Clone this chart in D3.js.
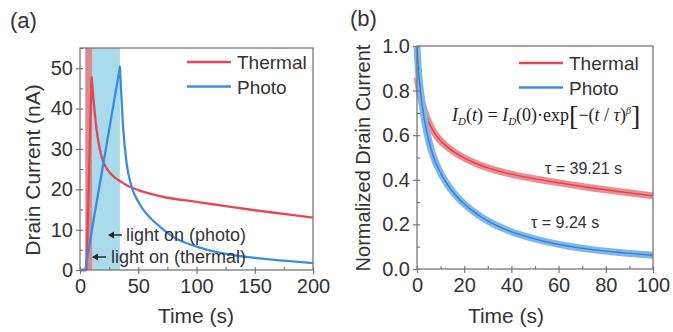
<!DOCTYPE html>
<html>
<head>
<meta charset="utf-8">
<script src="https://cdn.jsdelivr.net/npm/d3@7"></script>
<style>
  body { margin: 0; background: #fff; }
  svg { display: block; font-family: "Liberation Sans", Arial, sans-serif; }
</style>
</head>
<body>
<svg id="chart" width="673" height="332"></svg>
<script>
// panel (a): drain current vs time
const thermalTimeA = [0, 5.5, 10, 11.4, 12.5, 14.3, 16, 18, 20, 23, 26, 30, 35, 40, 50, 60, 75, 100, 125, 150, 175, 200];
const thermalCurrentA = [0, 0, 47.8, 42.9, 39.5, 34.6, 31.5, 28.7, 26.8, 25.1, 24, 22.9, 21.9, 21.0, 19.8, 18.9, 17.9, 16.9, 15.8, 14.8, 13.9, 13.0];
const photoTimeA = [0, 4.5, 12, 20, 28, 34.3, 37.2, 40, 44.4, 50, 54.4, 60, 68.7, 80, 100, 125, 150, 175, 200];
const photoCurrentA = [0, 0, 13, 26.3, 39.8, 50.3, 34.6, 26.4, 20.6, 16.9, 14.9, 13, 10.7, 8.2, 5.8, 4, 3, 2.3, 1.7];
const thermalLightOn = [4.5, 10.5];
const photoLightOn = [10.5, 34.3];
const xTicksA = [0, 50, 100, 150, 200];
const yTicksA = [0, 10, 20, 30, 40, 50];

// panel (b): normalized decay
const thermalTimeB = [0, 1, 2, 3.2, 5, 7, 9, 12, 16, 20, 25, 30, 37, 45, 55, 65, 75, 85, 100];
const thermalNormB = [0.86, 0.8, 0.75, 0.705, 0.655, 0.615, 0.585, 0.553, 0.522, 0.497, 0.472, 0.453, 0.432, 0.413, 0.395, 0.378, 0.362, 0.348, 0.328];
const photoTimeB = [0, 0.5, 1, 2, 3.2, 5, 7, 9, 12, 16, 20, 25, 30, 37, 45, 55, 65, 75, 85, 100];
const photoNormB = [1.0, 0.9, 0.84, 0.75, 0.66, 0.57, 0.5, 0.45, 0.39, 0.333, 0.29, 0.248, 0.214, 0.178, 0.148, 0.12, 0.1, 0.085, 0.074, 0.062];
const xTicksB = [0, 20, 40, 60, 80, 100];
const yTicksB = [0, 0.2, 0.4, 0.6, 0.8, 1.0];

const seriesNames = ['Thermal', 'Photo'];
const red = '#e4474f';
const blue = '#3b8ddc';
const axisColor = '#777';
const textColor = '#333';

const svg = d3.select('#chart');

function frame(g, x, y, xTicks, yTicks, xMinor, yMinor, yFmt) {
  const [x0, x1] = x.range();
  const [y0, y1] = y.range();

  g.append('g')
    .attr('transform', `translate(0,${y0})`)
    .call(d3.axisBottom(x).tickValues(xMinor).tickSize(-3).tickFormat(''))
    .call((a) => a.select('.domain').remove());
  g.append('g')
    .attr('transform', `translate(${x0},0)`)
    .call(d3.axisLeft(y).tickValues(yMinor).tickSize(-3).tickFormat(''))
    .call((a) => a.select('.domain').remove());

  g.append('g')
    .attr('transform', `translate(0,${y0})`)
    .call(d3.axisBottom(x).tickValues(xTicks).tickSize(4).tickPadding(5))
    .call((a) => a.select('.domain').remove())
    .call((a) => a.selectAll('text').style('font-size', '20px'));
  g.append('g')
    .attr('transform', `translate(${x0},0)`)
    .call(d3.axisLeft(y).tickValues(yTicks).tickSize(4).tickPadding(3).tickFormat(yFmt))
    .call((a) => a.select('.domain').remove())
    .call((a) => a.selectAll('text').style('font-size', '20px'));

  g.selectAll('.tick line').attr('stroke', axisColor).attr('stroke-width', 1.2);
  g.selectAll('.tick text').attr('fill', textColor).attr('font-family', '"Liberation Sans", Arial, sans-serif');

  g.append('rect')
    .attr('x', x0).attr('y', y1)
    .attr('width', x1 - x0).attr('height', y0 - y1)
    .attr('fill', 'none')
    .attr('stroke', axisColor)
    .attr('stroke-width', 1.3);
}

function legend(g, lx, ly) {
  const colors = [red, blue];
  seriesNames.forEach((name, i) => {
    const yy = ly + i * 24.5;
    g.append('line')
      .attr('x1', lx).attr('x2', lx + 44)
      .attr('y1', yy).attr('y2', yy)
      .attr('stroke', colors[i]).attr('stroke-width', 2.5);
    g.append('text')
      .attr('x', lx + 50).attr('y', yy + 7)
      .attr('fill', textColor)
      .style('font-size', '19px')
      .text(name);
  });
}

// ---------- panel (a)
const gA = svg.append('g');
const xA = d3.scaleLinear().domain([0, 200]).range([80, 313]);
const yA = d3.scaleLinear().domain([0, 55]).range([270, 48]);

gA.append('rect')
  .attr('x', xA(photoLightOn[0])).attr('y', yA(55))
  .attr('width', xA(photoLightOn[1]) - xA(photoLightOn[0]))
  .attr('height', yA(0) - yA(55))
  .attr('fill', '#aadbed');
gA.append('rect')
  .attr('x', xA(thermalLightOn[0])).attr('y', yA(55))
  .attr('width', xA(thermalLightOn[1]) - xA(thermalLightOn[0]))
  .attr('height', yA(0) - yA(55))
  .attr('fill', '#d98a95');

// rise drawn straight, decay drawn smooth, joined into one path at the peak
const riseLine = d3.line().x((d) => xA(d[0])).y((d) => yA(d[1]));
const decayLine = d3.line().x((d) => xA(d[0])).y((d) => yA(d[1])).curve(d3.curveMonotoneX);
function transient(t, v) {
  const pts = d3.zip(t, v);
  const peak = d3.maxIndex(v);
  return riseLine(pts.slice(0, peak + 1)) + decayLine(pts.slice(peak)).replace(/^M/, 'L');
}

gA.append('path')
  .attr('d', transient(thermalTimeA, thermalCurrentA))
  .attr('fill', 'none').attr('stroke', red).attr('stroke-width', 2.3)
  .attr('stroke-linejoin', 'round');
gA.append('path')
  .attr('d', transient(photoTimeA, photoCurrentA))
  .attr('fill', 'none').attr('stroke', blue).attr('stroke-width', 2.3)
  .attr('stroke-linejoin', 'round');

frame(gA, xA, yA, xTicksA, yTicksA, d3.range(0, 201, 25), d3.range(0, 56, 5), d3.format('d'));
legend(gA, 187, 62);

// light-on annotations
const notes = [
  { text: 'light on (photo)', ax: 108, ay: 235, tx: 126, ty: 241 },
  { text: 'light on (thermal)', ax: 92, ay: 257, tx: 111, ty: 263 },
];
notes.forEach((n) => {
  gA.append('line')
    .attr('x1', n.ax + 2).attr('x2', n.ax + 14)
    .attr('y1', n.ay).attr('y2', n.ay)
    .attr('stroke', '#222').attr('stroke-width', 1.4);
  gA.append('path')
    .attr('d', `M${n.ax},${n.ay} l6,-3.5 l0,7 z`)
    .attr('fill', '#222');
  gA.append('text')
    .attr('x', n.tx).attr('y', n.ty)
    .attr('fill', textColor)
    .style('font-size', '18px')
    .text(n.text);
});

gA.append('text')
  .attr('x', 196).attr('y', 323)
  .attr('text-anchor', 'middle')
  .attr('fill', textColor)
  .style('font-size', '21px')
  .text('Time (s)');
gA.append('text')
  .attr('transform', 'translate(40,170) rotate(-90)')
  .attr('text-anchor', 'middle')
  .attr('fill', textColor)
  .style('font-size', '21px')
  .text('Drain Current (nA)');
gA.append('text')
  .attr('x', 10).attr('y', 28)
  .attr('fill', textColor)
  .style('font-size', '22px')
  .text('(a)');

// ---------- panel (b)
const gB = svg.append('g');
const xB = d3.scaleLinear().domain([0, 100]).range([417, 653]);
const yB = d3.scaleLinear().domain([0, 1]).range([269, 46]);

const lineB = d3.line().x((d) => xB(d[0])).y((d) => yB(d[1])).curve(d3.curveBasis);
const bands = [
  { t: thermalTimeB, v: thermalNormB, c: '#de3f48', light: '#ee8c91' },
  { t: photoTimeB, v: photoNormB, c: '#2f82d6', light: '#80b7ea' },
];
bands.forEach((s) => {
  const pts = d3.zip(s.t, s.v);
  gB.append('path')
    .datum(pts)
    .attr('d', lineB)
    .attr('fill', 'none').attr('stroke', s.light).attr('stroke-width', 7);
  gB.append('path')
    .datum(pts)
    .attr('d', lineB)
    .attr('fill', 'none').attr('stroke', s.c).attr('stroke-width', 1.4);
});

frame(gB, xB, yB, xTicksB, yTicksB, d3.range(0, 101, 10), d3.range(0, 1.01, 0.1), d3.format('.1f'));
legend(gB, 519, 63);

// fit formula
const formula = gB.append('text')
  .attr('x', 452).attr('y', 121)
  .attr('fill', '#222')
  .style('font-family', '"Liberation Serif", "Times New Roman", serif')
  .style('font-size', '18px');
formula.append('tspan').style('font-style', 'italic').text('I');
formula.append('tspan').attr('dy', 4).style('font-size', '11px').style('font-style', 'italic').text('D');
formula.append('tspan').attr('dy', -4).text('(');
formula.append('tspan').style('font-style', 'italic').text('t');
formula.append('tspan').text(') = ');
formula.append('tspan').style('font-style', 'italic').text('I');
formula.append('tspan').attr('dy', 4).style('font-size', '11px').style('font-style', 'italic').text('D');
formula.append('tspan').attr('dy', -4).text('(0)·exp');
formula.append('tspan').style('font-size', '28px').attr('dy', 4).text('[');
formula.append('tspan').attr('dy', -4).text('−(');
formula.append('tspan').style('font-style', 'italic').text('t');
formula.append('tspan').text(' / ');
formula.append('tspan').style('font-style', 'italic').text('τ');
formula.append('tspan').text(')');
formula.append('tspan').attr('dy', -7).style('font-size', '10px').style('font-style', 'italic').text('β');
formula.append('tspan').attr('dy', 11).style('font-size', '28px').text(']');

const tauLabels = [
  { text: 'τ = 39.21 s', x: 545, y: 174 },
  { text: 'τ = 9.24 s', x: 531, y: 228 },
];
tauLabels.forEach((l) => {
  gB.append('text')
    .attr('x', l.x).attr('y', l.y)
    .attr('fill', textColor)
    .style('font-size', '16px')
    .text(l.text);
});

gB.append('text')
  .attr('x', 506).attr('y', 323)
  .attr('text-anchor', 'middle')
  .attr('fill', textColor)
  .style('font-size', '21px')
  .text('Time (s)');
gB.append('text')
  .attr('transform', 'translate(370,158) rotate(-90)')
  .attr('text-anchor', 'middle')
  .attr('fill', textColor)
  .style('font-size', '20px')
  .text('Normalized Drain Current');
gB.append('text')
  .attr('x', 350).attr('y', 26)
  .attr('fill', textColor)
  .style('font-size', '22px')
  .text('(b)');
</script>
</body>
</html>
